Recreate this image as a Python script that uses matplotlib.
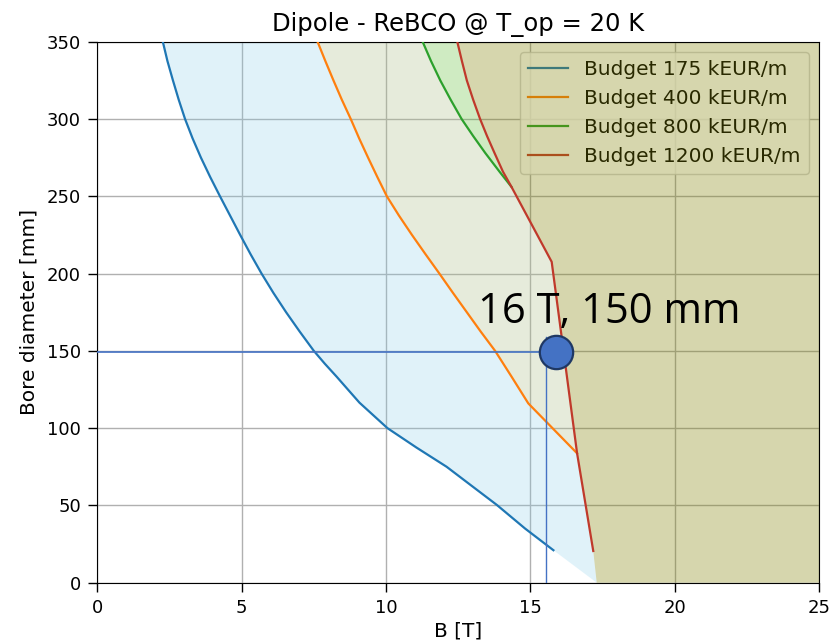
import numpy as np
import matplotlib
matplotlib.use("Agg")
import matplotlib.pyplot as plt

# ---------------- data ----------------
labels = ["Budget 175 kEUR/m", "Budget 400 kEUR/m", "Budget 800 kEUR/m", "Budget 1200 kEUR/m"]

blue_B = [2.27, 2.43, 2.62, 2.82, 3.04, 3.30, 3.59, 3.91, 4.25, 4.60, 4.95, 5.31, 5.69,
          6.10, 6.54, 7.01, 7.50, 7.88, 8.29, 8.68, 9.08, 10.05, 11.05, 12.10, 12.98, 13.84,
          14.82, 15.80]
blue_D = [350, 337.5, 325, 312.5, 300, 287.5, 275, 262.5, 250, 237.5, 225, 212.5, 200,
          187.5, 175, 162.5, 150, 141.7, 133.3, 125, 116.5, 100, 87.5, 75, 62.5, 50.3,
          35, 21]

orange_B = [7.63, 7.90, 8.18, 8.47, 8.78, 9.07, 9.38, 9.70, 10.03, 10.45, 10.90, 11.37,
            11.85, 12.32, 12.80, 13.28, 13.78, 14.35, 14.93, 16.62]
orange_D = [350, 337.5, 325, 312.5, 300, 287.5, 275, 262.5, 250, 237.5, 225, 212.5,
            200, 187.5, 175, 162.5, 150, 133.3, 116, 83.7]

green_B = [11.27, 11.56, 11.88, 12.24, 12.62, 13.02, 13.44, 13.93, 14.35]
green_D = [350, 337.5, 325, 312.5, 300, 289, 278, 266, 256]

red_B = [12.47, 12.63, 12.80, 13.02, 13.26, 13.50, 13.76, 14.05, 14.35, 15.04, 15.74,
         16.15, 16.62, 17.18]
red_D = [350, 337.5, 325, 312.5, 300, 289, 278, 266, 256, 232, 207.6,
         150, 83.7, 20.5]

limit_B = [17.3]
limit_D = [0]

point_B = [15.9]
point_D = [149]
hline_D = [149.4]
vline_B = [15.53]
vline_top = [159]
point_label = "16 T, 150 mm"

x_lim = [0, 25]
y_lim = [0, 350]
x_ticks = [0, 5, 10, 15, 20, 25]
y_ticks = [0, 50, 100, 150, 200, 250, 300, 350]

# ---------------- figure ----------------
fig = plt.figure(figsize=(8.33, 6.43), dpi=100)
ax = fig.add_axes([0.1168, 0.0938, 0.9832 - 0.1168, 0.9351 - 0.0938])

bB, bD = np.array(blue_B), np.array(blue_D)
oB, oD = np.array(orange_B), np.array(orange_D)
gB, gD = np.array(green_B), np.array(green_D)
rB, rD = np.array(red_B), np.array(red_D)
lB, lD = np.array(limit_B), np.array(limit_D)

# region polygons (non-overlapping)
m = rD >= gD[-1]
g_poly_x = np.concatenate([gB, rB[m][::-1]])
g_poly_y = np.concatenate([gD, rD[m][::-1]])
m2 = (rD <= gD[-1]) & (rD >= oD[-1])
o_poly_x = np.concatenate([oB, rB[m2][::-1], gB[::-1]])
o_poly_y = np.concatenate([oD, rD[m2][::-1], gD[::-1]])
m3 = rD <= oD[-1]
b_poly_x = np.concatenate([bB, lB, rB[m3][::-1], oB[::-1]])
b_poly_y = np.concatenate([bD, lD, rD[m3][::-1], oD[::-1]])
r_poly_x = np.concatenate([rB, lB, [x_lim[1], x_lim[1]]])
r_poly_y = np.concatenate([rD, lD, [y_lim[0], y_lim[1]]])

ax.fill(b_poly_x, b_poly_y, color=(135/255, 206/255, 235/255), alpha=0.25, lw=0, zorder=2)
ax.fill(o_poly_x, o_poly_y, color=(175/255, 192/255, 138/255), alpha=0.30, lw=0, zorder=2)
ax.fill(g_poly_x, g_poly_y, color=(98/255, 192/255, 55/255), alpha=0.30, lw=0, zorder=2)
ax.fill(r_poly_x, r_poly_y, color=(128/255, 128/255, 0), alpha=0.32, lw=0, zorder=2)

lw = 1.6
ax.plot(bB, bD, color="#1f77b4", lw=lw, label=labels[0], zorder=3)
ax.plot(oB, oD, color="#ff7f0e", lw=lw, label=labels[1], zorder=3)
ax.plot(gB, gD, color="#2ca02c", lw=lw, label=labels[2], zorder=3)
ax.plot(rB, rD, color="#c0392b", lw=lw, label=labels[3], zorder=3)

ax.set_xlim(x_lim)
ax.set_ylim(y_lim)
ax.set_xticks(x_ticks)
ax.set_yticks(y_ticks)
ax.tick_params(labelsize=13, length=6.8, width=1, pad=5)
ax.grid(True, color="#b0b0b0", lw=1.0, zorder=1)
ax.set_axisbelow(True)
ax.set_xlabel("B [T]", fontsize=14.5, labelpad=3)
ax.set_ylabel("Bore diameter [mm]", fontsize=14.5, labelpad=6)
ax.set_title("Dipole - ReBCO @ T_op = 20 K", fontsize=17.5, pad=8)

leg = ax.legend(loc="upper right", fontsize=14.5, framealpha=0.8)
leg.set_zorder(1.8)

# annotation
ax.plot([x_lim[0], point_B[0]], [hline_D[0], hline_D[0]], color="#4472c4", lw=1.2, zorder=4)
ax.plot([vline_B[0], vline_B[0]], [y_lim[0], vline_top[0]], color="#4472c4", lw=1.0, zorder=4)
ax.plot(point_B, point_D, marker="o", markersize=24, markerfacecolor="#4472c4",
        markeredgecolor="#1f3864", markeredgewidth=1.6, zorder=5, clip_on=False)
fig.text(478 / 833, 1 - 323 / 643, point_label, fontsize=30, family=["Open Sans", "DejaVu Sans"],
         va="baseline", ha="left", color="black", zorder=6)

fig.savefig("out.png", dpi=100)
